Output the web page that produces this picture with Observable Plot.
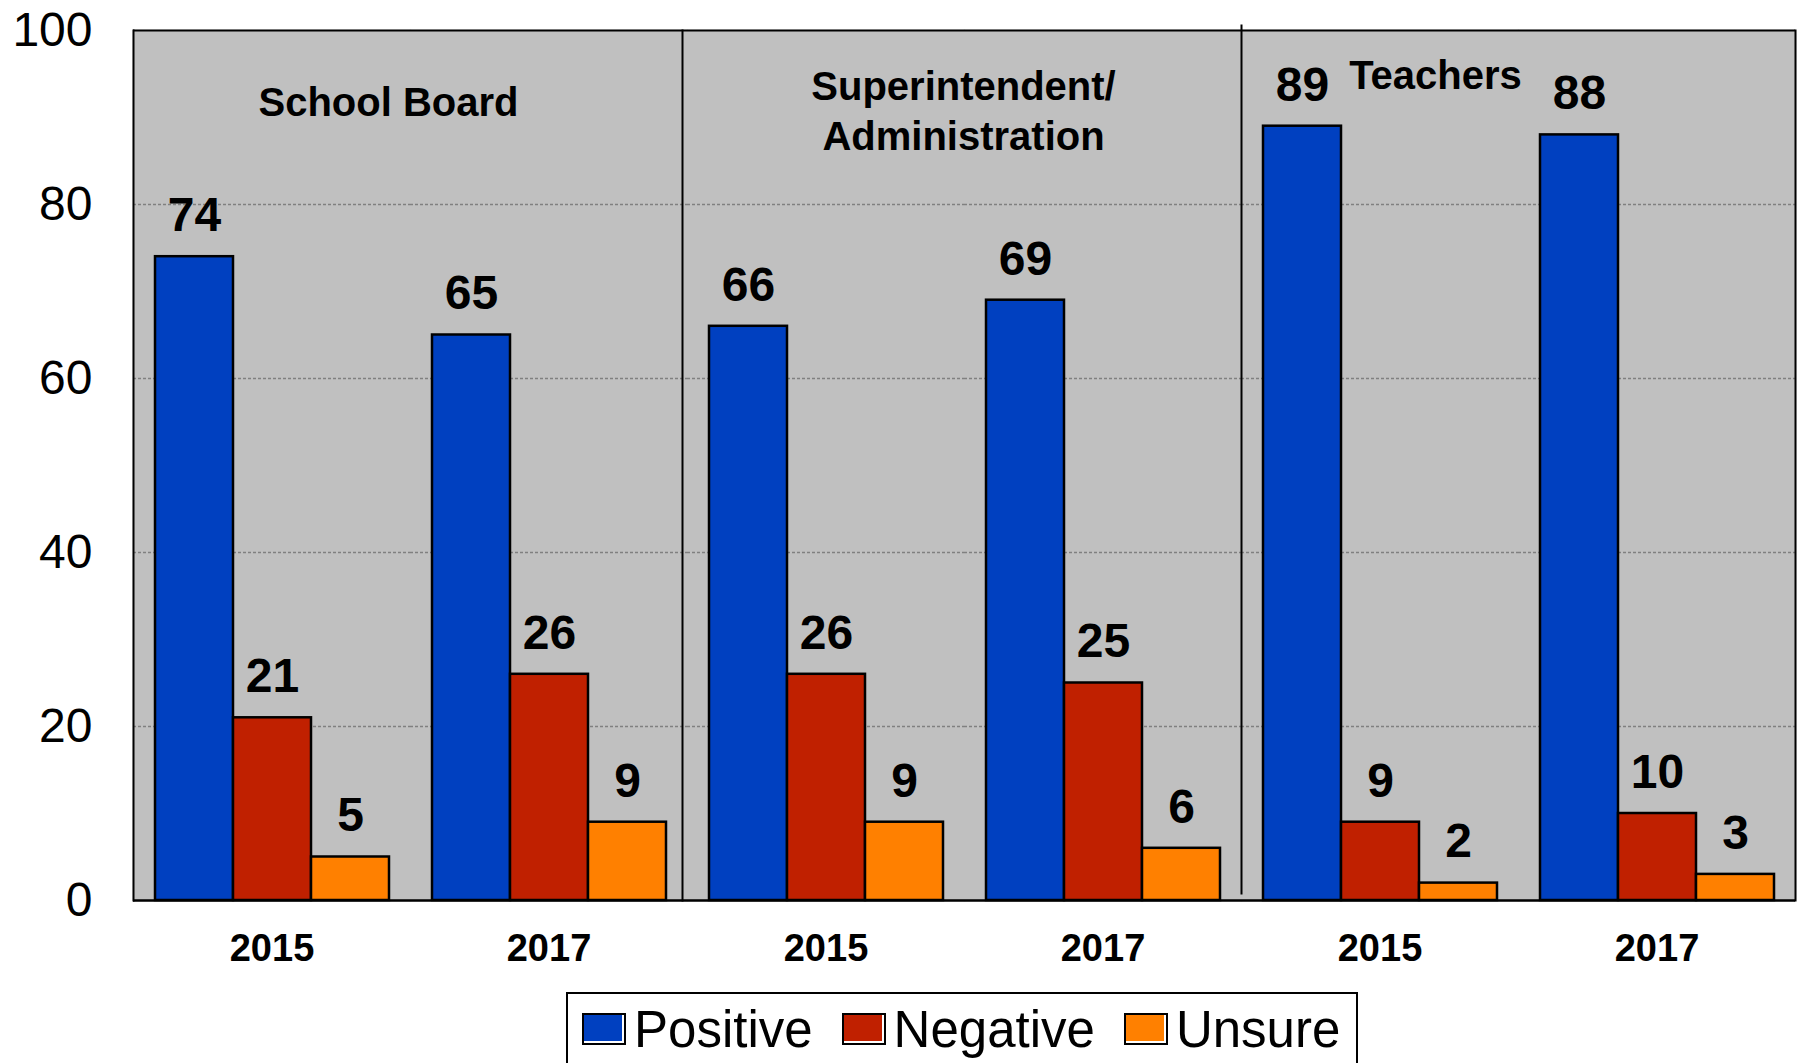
<!DOCTYPE html>
<html>
<head>
<meta charset="utf-8">
<script src="https://cdn.jsdelivr.net/npm/d3@7"></script>
<script src="https://cdn.jsdelivr.net/npm/@observablehq/plot@0.6"></script>
<style>
  html, body { margin: 0; padding: 0; background: #fff; overflow: hidden; }
  body { font-family: "Liberation Sans", Arial, sans-serif; }
  #wrap { position: relative; width: 1797px; height: 1063px; overflow: hidden; }
  #chart { position: absolute; left: 0; top: 0; }
  #legend { position: absolute; left: 566px; top: 992px; width: 792px; height: 120px;
            border: 2px solid #000; box-sizing: border-box; background: #fff; }
  #legend .row { display: flex; align-items: center; height: 70px; padding-left: 14px; }
  #legend .sw { width: 44px; height: 32px; border: 2px solid #000; box-sizing: border-box;
                box-shadow: inset -2px -2px 0 #fff; margin-right: 8px; flex: none; }
  #legend .lab { font-size: 51px; line-height: 1; margin-right: 29px; color: #000; white-space: nowrap; }
</style>
</head>
<body>
<div id="wrap">
  <div id="chart"></div>
  <div id="legend"><div class="row" id="legendRow"></div></div>
</div>
<script>
// ---- data ----
const categories = ["School Board", "Superintendent/Administration", "Teachers"];
const categoryLabels = ["School Board", "Superintendent/\nAdministration", "Teachers"];
const years = ["2015", "2017"];
const series = ["Positive", "Negative", "Unsure"];
const positive = [74, 65, 66, 69, 89, 88];
const negative = [21, 26, 26, 25, 9, 10];
const unsure = [5, 9, 9, 6, 2, 3];
const yTicks = [0, 20, 40, 60, 80, 100];
const gridTicks = [20, 40, 60, 80];
const colors = ["#0040C0", "#C02000", "#FF8000"];

// ---- table ----
const keys = categories.flatMap(c => years.map(y => c + "|" + y));
const seriesValues = [positive, negative, unsure];
const rows = keys.flatMap((k, i) => series.map((s, j) => ({key: k, series: s, value: seriesValues[j][i]})));

const font = '"Liberation Sans", Arial, sans-serif';
const labelStyle = {fontSize: 40, fontWeight: "bold", fill: "#000", textAnchor: "middle", frameAnchor: "right"};

const chart = Plot.plot({
  width: 1797,
  height: 990,
  marginLeft: 132,
  marginRight: 2,
  marginTop: 30,
  marginBottom: 90,
  style: {fontFamily: font, background: "transparent", color: "#000", overflow: "visible"},
  fx: {domain: keys, padding: 0, label: null},
  x: {domain: series, paddingInner: 0, paddingOuter: 0.27, axis: null},
  y: {domain: [0, 100], label: null},
  color: {domain: series, range: colors},
  marks: [
    Plot.frame({fill: "#C0C0C0", stroke: "#C0C0C0", strokeWidth: 1.5}),
    Plot.ruleY(gridTicks, {stroke: "#808080", strokeWidth: 1.5, strokeDasharray: "3,2"}),
    Plot.barY(rows, {fx: "key", x: "series", y: "value", fill: "series", stroke: "#000", strokeWidth: 2.5}),
    Plot.text(rows, {fx: "key", x: "series", y: "value", text: d => String(d.value), dy: -41,
      fontSize: 48, fontWeight: "bold", fill: "#000"}),
    Plot.text([categoryLabels[0]], {fx: () => keys[0], text: d => d, y: 91.7, dx: -22, ...labelStyle}),
    Plot.text([categoryLabels[1]], {fx: () => keys[2], text: d => d, y: 91.0, dx: -1, lineHeight: 1.25, ...labelStyle}),
    Plot.text([categoryLabels[2]], {fx: () => keys[4], text: d => d, y: 94.7, dx: -83, ...labelStyle}),
    Plot.ruleY([0], {stroke: "#000", strokeWidth: 2.5}),
    Plot.ruleY([100], {stroke: "#000", strokeWidth: 2}),
    Plot.frame({fx: keys[0], anchor: "left", stroke: "#000", strokeWidth: 2}),
    Plot.frame({fx: keys[5], anchor: "right", stroke: "#000", strokeWidth: 2}),
    Plot.frame({fx: keys[2], anchor: "left", stroke: "#000", strokeWidth: 2, dx: -5}),
    Plot.frame({fx: keys[4], anchor: "left", stroke: "#000", strokeWidth: 2, insetTop: -5, insetBottom: 7}),
    Plot.axisY(yTicks, {tickSize: 0, tickPadding: 41, fontSize: 48, label: null}),
    Plot.axisFx({anchor: "bottom", tickSize: 0, tickPadding: 34, fontSize: 38, fontWeight: "bold",
      tickFormat: k => k.split("|")[1], label: null})
  ]
});
document.getElementById("chart").appendChild(chart);

// ---- legend ----
const row = document.getElementById("legendRow");
series.forEach((s, i) => {
  const sw = document.createElement("div");
  sw.className = "sw";
  sw.style.background = colors[i];
  const lab = document.createElement("div");
  lab.className = "lab";
  lab.textContent = s;
  row.appendChild(sw);
  row.appendChild(lab);
});
</script>
</body>
</html>
